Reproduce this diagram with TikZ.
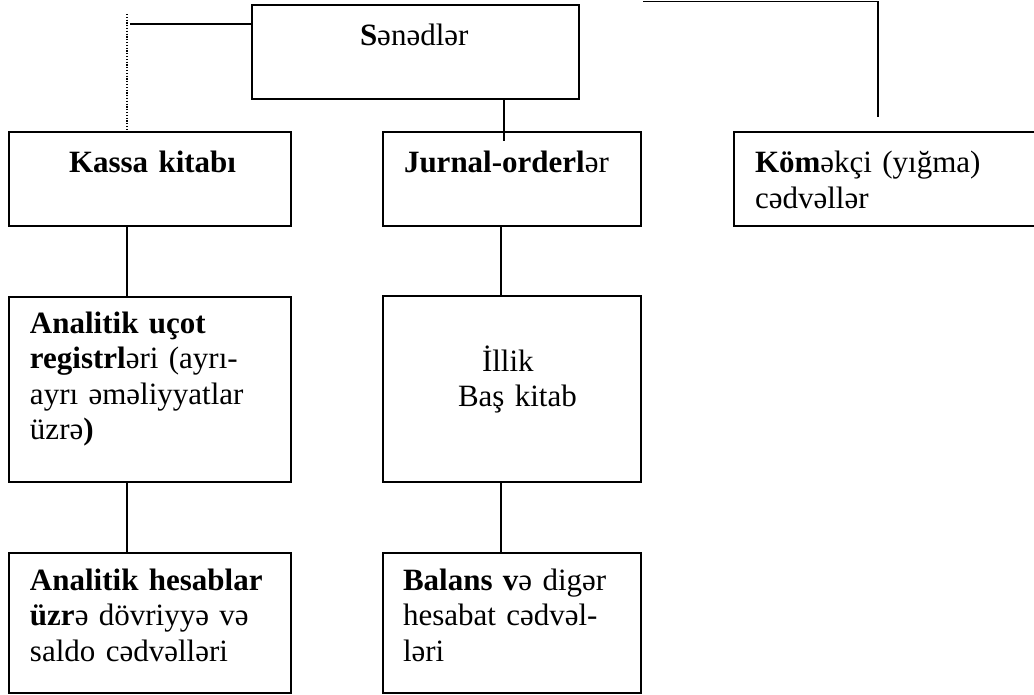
\documentclass[tikz,border=0pt]{standalone}
\usepackage{fontspec}
\setmainfont{Liberation Serif}
\begin{document}
\begin{tikzpicture}[x=1pt,y=-1pt,
  box/.style={draw, line width=1.8pt, rectangle, inner sep=0pt, outer sep=0pt},
  conn/.style={line width=1.5pt},
  dotline/.style={line width=1.3pt, dash pattern=on 1.2pt off 1.6pt},
  txt/.style={anchor=base west, inner sep=0pt, outer sep=0pt, align=left,
              text width=330pt, font=\fontsize{31}{35.5}\selectfont}]
\useasboundingbox (0,0) rectangle (1034,695);
\clip (0,0) rectangle (1034,695);

% boxes
\node[box, minimum width=327pt, minimum height=94pt]  (sened)   at (415.5,52)  {};
\node[box, minimum width=282pt, minimum height=94pt]  (kassa)   at (150,179)   {};
\node[box, minimum width=258pt, minimum height=94pt]  (jurnal)  at (512,179)   {};
\node[box, minimum width=311pt, minimum height=94pt]  (komek)   at (889.5,179) {};
\node[box, minimum width=282pt, minimum height=185pt] (ucot)    at (150,389.5) {};
\node[box, minimum width=258pt, minimum height=186pt] (illik)   at (512,389)   {};
\node[box, minimum width=282pt, minimum height=140pt] (hesab)   at (150,623)   {};
\node[box, minimum width=258pt, minimum height=140pt] (balans)  at (512,623)   {};

% texts
\node[txt] (sened-t)  at (360,46)  {\textbf{S}ənədlər};
\node[txt] (kassa-t)  at (69,173)  {\textbf{Kassa kitabı}};
\node[txt] (jurnal-t) at (404,173) {\textbf{Jurnal-orderl}ər};
\node[txt] (komek-t)  at (755,173) {\textbf{Köm}əkçi (yığma)\\cədvəllər};
\node[txt] (ucot-t)   at (30,333)  {\textbf{Analitik uçot}\\\textbf{registrl}əri (ayrı-\\ayrı əməliyyatlar\\üzrə\textbf{)}};
\node[txt] (illik-t)  at (458,371) {\hspace*{24pt}İllik\\Baş kitab};
\node[txt] (hesab-t)  at (30,590)  {\textbf{Analitik hesablar}\\\textbf{üzr}ə dövriyyə və\\saldo cədvəlləri};
\node[txt] (balans-t) at (403,590) {\textbf{Balans v}ə digər\\hesabat cədvəl-\\ləri};

% column guides
\coordinate (lc) at (127,0);
\coordinate (mc) at (501,0);
\coordinate (sc) at (504,0);
\coordinate (dl) at (130,24);
\coordinate (dtop) at (127,14);
\coordinate (tr1) at (643,1.5);
\coordinate (tr2) at (878,1.5);
\coordinate (tr3) at (878,117);

% connectors
\draw[conn] (sened.west |- dl) -- (dl);
\draw[dotline] (dtop) -- ([yshift=2pt]kassa.north -| dtop);
\draw[conn] (sened.south -| sc) -- ([yshift=-9pt]jurnal.north -| sc);
\draw[conn] (tr1) -- (tr2) -- (tr3);
\draw[conn] (kassa.south -| lc) -- (ucot.north -| lc);
\draw[conn] (ucot.south -| lc) -- (hesab.north -| lc);
\draw[conn] (jurnal.south -| mc) -- (illik.north -| mc);
\draw[conn] (illik.south -| mc) -- (balans.north -| mc);
\end{tikzpicture}
\end{document}
